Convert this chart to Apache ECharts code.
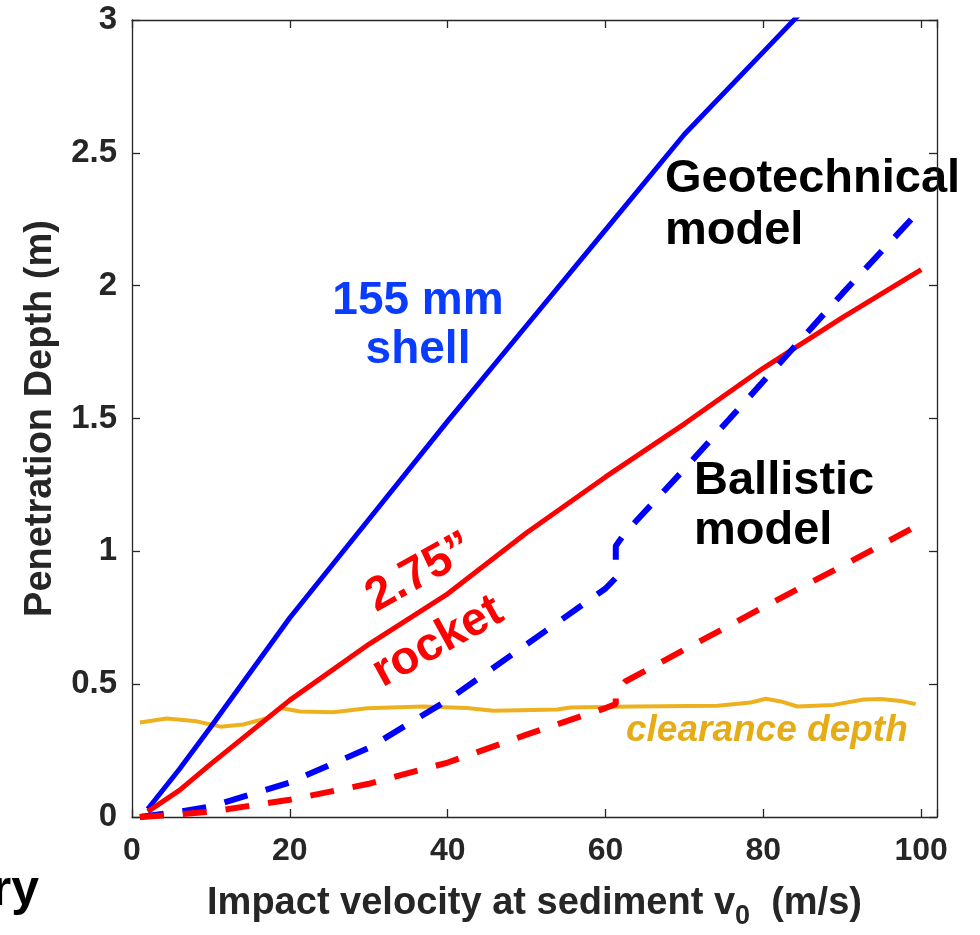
<!DOCTYPE html>
<html>
<head>
<meta charset="utf-8">
<title>Penetration depth</title>
<script src="https://cdn.jsdelivr.net/npm/echarts@6/dist/echarts.min.js"></script>
<style>
  html, body { margin: 0; padding: 0; background: #fff; }
  #chart { width: 980px; height: 935px; }
</style>
</head>
<body>
<div id="chart"></div>
<script>
  // impact velocity (m/s) for the solid curves
  const velSolid = [2, 6, 10, 20, 30, 40, 50, 60, 70, 80, 90];
  const shellSolid = [0.03, 0.18, 0.34, 0.75, 1.12, 1.49, 1.85, 2.21, 2.57, 2.88, 3.19];
  const velRocket = [2, 6, 10, 20, 30, 40, 50, 60, 70, 80, 90, 100];
  const rocketSolid = [0.02, 0.10, 0.20, 0.44, 0.65, 0.84, 1.07, 1.28, 1.48, 1.69, 1.88, 2.06];

  // dashed curves (jump near 61 m/s)
  const velDashed = [1, 6, 10, 20, 30, 40, 50, 60, 61.3, 61.3, 62.5, 70, 80, 90, 100];
  const shellDashed = [0.0, 0.02, 0.04, 0.13, 0.26, 0.44, 0.65, 0.86, 0.90, 1.02, 1.07, 1.31, 1.64, 1.97, 2.29];
  const rocketDashed = [0.0, 0.01, 0.02, 0.065, 0.125, 0.205, 0.31, 0.41, 0.425, 0.47, 0.51, 0.63, 0.79, 0.945, 1.105];

  // clearance depth
  const velClear = [1, 4.4, 8.2, 11.2, 14.1, 17.1, 18.8, 21.3, 25.5, 29.8, 36.9, 42.4, 45.8, 53.9, 55.5, 63.6, 74.2, 78.4, 80.3, 82.2, 84.3, 88.9, 92.7, 94.9, 97.4, 99.3];
  const clearDepth = [0.356, 0.371, 0.36, 0.34, 0.348, 0.372, 0.41, 0.397, 0.394, 0.409, 0.416, 0.41, 0.40, 0.405, 0.412, 0.416, 0.419, 0.431, 0.445, 0.435, 0.416, 0.422, 0.442, 0.444, 0.437, 0.425];

  const xTicks = [0, 20, 40, 60, 80, 100];

  function zip(xs, ys) {
    return xs.map((x, i) => [x, ys[i]]);
  }

  const FONT = '"Liberation Sans", Arial, Helvetica, sans-serif';
  const axisColor = '#262626';

  let myChart = echarts.init(document.getElementById('chart'));

  function xAxisCfg(pos, main) {
    return {
      type: 'value',
      position: pos,
      min: 0,
      max: 102,
      interval: 20,
      axisLine: {show: true, onZero: false, lineStyle: {color: axisColor, width: 1.3}},
      axisTick: {show: true, inside: true, length: 8, lineStyle: {color: axisColor, width: 1.3}},
      splitLine: {show: false},
      axisLabel: {
        show: main,
        margin: 18,
        color: axisColor,
        fontSize: 32,
        fontWeight: 'bold',
        fontFamily: FONT,
        formatter: v => xTicks.indexOf(v) >= 0 ? String(v) : ''
      },
      name: main ? 'Impact velocity at sediment v{sub|0}  (m/s)' : '',
      nameLocation: 'middle',
      nameGap: 60,
      nameTextStyle: {
        color: axisColor,
        fontSize: 38,
        fontWeight: 'bold',
        fontFamily: FONT,
        rich: {
          sub: {fontSize: 27, fontWeight: 'bold', fontFamily: FONT, color: axisColor, padding: [26, 0, 0, 0]}
        }
      }
    };
  }

  function yAxisCfg(pos, main) {
    return {
      type: 'value',
      position: pos,
      min: 0,
      max: 3,
      interval: 0.5,
      axisLine: {show: true, onZero: false, lineStyle: {color: axisColor, width: 1.3}},
      axisTick: {show: true, inside: true, length: 8, lineStyle: {color: axisColor, width: 1.3}},
      splitLine: {show: false},
      axisLabel: {
        show: main,
        margin: 15,
        color: axisColor,
        fontSize: 33,
        fontWeight: 'bold',
        fontFamily: FONT
      },
      name: main ? 'Penetration Depth (m)' : '',
      nameLocation: 'middle',
      nameGap: 72,
      nameTextStyle: {color: axisColor, fontSize: 38, fontWeight: 'bold', fontFamily: FONT}
    };
  }

  function lineSeries(name, data, color, width, dashed) {
    return {
      name: name,
      type: 'line',
      xAxisIndex: 0,
      yAxisIndex: 0,
      data: data,
      symbol: 'none',
      clip: true,
      lineStyle: {color: color, width: width, type: dashed ? [24, 19] : 'solid', cap: 'butt'}
    };
  }

  let option = {
    animation: false,
    backgroundColor: '#fff',
    grid: {left: 132, top: 20, right: 43, bottom: 115, containLabel: false},
    xAxis: [xAxisCfg('bottom', true), xAxisCfg('top', false)],
    yAxis: [yAxisCfg('left', true), yAxisCfg('right', false)],
    series: [
      lineSeries('clearance depth', zip(velClear, clearDepth), '#EDB120', 4, false),
      lineSeries('155 mm shell', zip(velSolid, shellSolid), '#0000FF', 5, false),
      lineSeries('2.75" rocket', zip(velRocket, rocketSolid), '#FF0000', 5, false),
      lineSeries('155 mm shell dashed', zip(velDashed, shellDashed), '#0000FF', 6, true),
      lineSeries('2.75" rocket dashed', zip(velDashed, rocketDashed), '#FF0000', 6, true)
    ],
    graphic: [
      {
        type: 'text', x: 418, y: 326,
        style: {text: '155 mm\nshell', fill: '#0a3cff', font: 'bold 46px ' + FONT, align: 'center', verticalAlign: 'middle', lineHeight: 49}
      },
      {
        type: 'text', x: 665, y: 205,
        style: {text: 'Geotechnical\nmodel', fill: '#000', font: 'bold 47px ' + FONT, align: 'left', verticalAlign: 'middle', lineHeight: 52}
      },
      {
        type: 'text', x: 694, y: 506,
        style: {text: 'Ballistic\nmodel', fill: '#000', font: 'bold 47px ' + FONT, align: 'left', verticalAlign: 'middle', lineHeight: 50}
      },
      {
        type: 'text', x: 420, y: 573, rotation: 29 * Math.PI / 180,
        style: {text: '2.75\u201d', fill: '#FF0000', font: 'bold 47px ' + FONT, align: 'center', verticalAlign: 'middle'}
      },
      {
        type: 'text', x: 438, y: 642, rotation: 29 * Math.PI / 180,
        style: {text: 'rocket', fill: '#FF0000', font: 'bold 47px ' + FONT, align: 'center', verticalAlign: 'middle'}
      },
      {
        type: 'text', x: 626, y: 731,
        style: {text: 'clearance depth', fill: '#E6AC16', font: 'italic bold 37px ' + FONT, align: 'left', verticalAlign: 'middle'}
      },
      {
        type: 'text', x: 39, y: 891,
        style: {text: 'ry', fill: '#000', font: 'bold 50px ' + FONT, align: 'right', verticalAlign: 'middle'}
      }
    ]
  };

  myChart.setOption(option);
</script>
</body>
</html>
